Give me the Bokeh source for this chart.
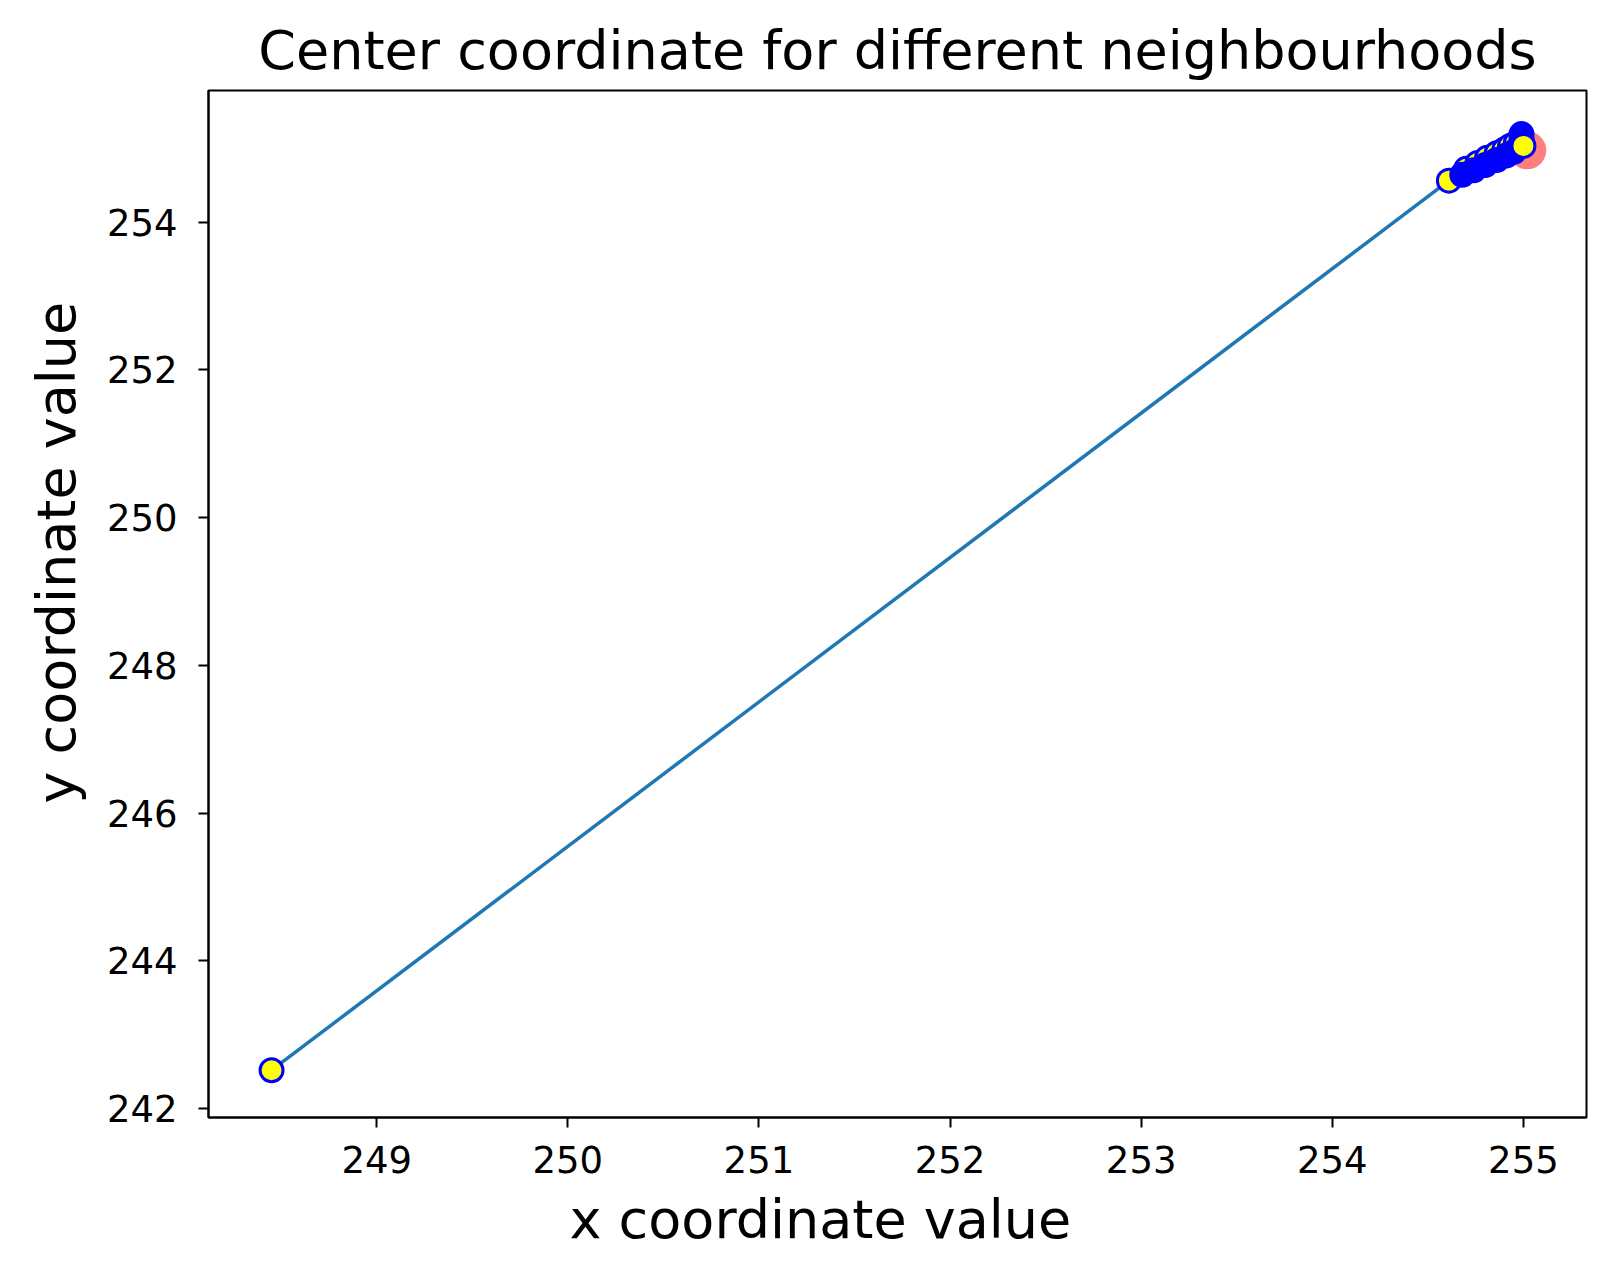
from bokeh.plotting import figure
from bokeh.models import Range1d, FixedTicker, Title
from bokeh.embed import file_html
from bokeh.resources import INLINE

# centre coordinate after each step
path_x = [248.45, 254.61, 254.70, 254.76, 254.81, 254.86, 254.90, 254.93, 254.96, 254.99, 255.00]
path_y = [242.52, 254.56, 254.72, 254.80, 254.87, 254.93, 254.98, 255.03, 255.07, 255.12, 255.03]

# dense blue cluster near the end of the path
cluster_x = [254.68, 254.74, 254.80, 254.86, 254.91, 254.95, 254.99]
cluster_y = [254.64, 254.70, 254.77, 254.84, 254.90, 254.95, 255.19]

# reference centre
ref_x = [255.02]
ref_y = [254.97]

x_ticks = [249, 250, 251, 252, 253, 254, 255]
y_ticks = [242, 244, 246, 248, 250, 252, 254]

FONT = "DejaVu Sans"

p = figure(
    frame_width=1378, frame_height=1027,
    min_border_left=208, min_border_right=20, min_border_top=90, min_border_bottom=142,
    x_range=Range1d(248.12, 255.33), y_range=Range1d(241.88, 255.78),
    output_backend="svg", toolbar_location=None,
    title="Center coordinate for different neighbourhoods",
)
p.background_fill_color = "white"
p.border_fill_color = "white"
p.outline_line_color = "black"
p.outline_line_width = 2
p.grid.visible = False

p.title.text_font = FONT
p.title.text_font_size = "54px"
p.title.text_font_style = "normal"
p.title.align = "center"
p.title.text_color = "black"
p.title.standoff = 17

for ax in (p.xaxis[0], p.yaxis[0]):
    ax.axis_line_color = "black"
    ax.axis_line_width = 2
    ax.major_tick_line_width = 2
    ax.major_tick_line_color = "black"
    ax.major_tick_out = 10
    ax.major_tick_in = 0
    ax.minor_tick_line_color = None
    ax.major_label_text_font = FONT
    ax.major_label_text_font_size = "37px"
    ax.major_label_text_color = "black"

p.xaxis.ticker = FixedTicker(ticks=x_ticks)
p.yaxis.ticker = FixedTicker(ticks=y_ticks)
p.xaxis.major_label_standoff = 18
p.yaxis.major_label_standoff = 21

p.scatter(ref_x, ref_y, size=38, fill_color="red", fill_alpha=0.5, line_color=None)
p.line(path_x, path_y, line_color="#1f77b4", line_width=3.5)
p.scatter(path_x[:-1], path_y[:-1], size=23, fill_color="yellow", line_color="blue", line_width=3)
p.scatter(cluster_x, cluster_y, size=23, fill_color="blue", line_color="blue", line_width=3)
p.scatter(path_x[-1:], path_y[-1:], size=23, fill_color="yellow", line_color="blue", line_width=3)

# axis labels sit a little off the frame centre in the original
p.add_layout(Title(text="x coordinate value", align="left", offset=361, standoff=20,
                   text_font=FONT, text_font_size="54px", text_font_style="normal",
                   text_color="black"), "below")
p.add_layout(Title(text="y coordinate value", align="left", offset=314, standoff=31,
                   text_font=FONT, text_font_size="54px", text_font_style="normal",
                   text_color="black"), "left")

open("out.html", "w").write(file_html(p, INLINE))
